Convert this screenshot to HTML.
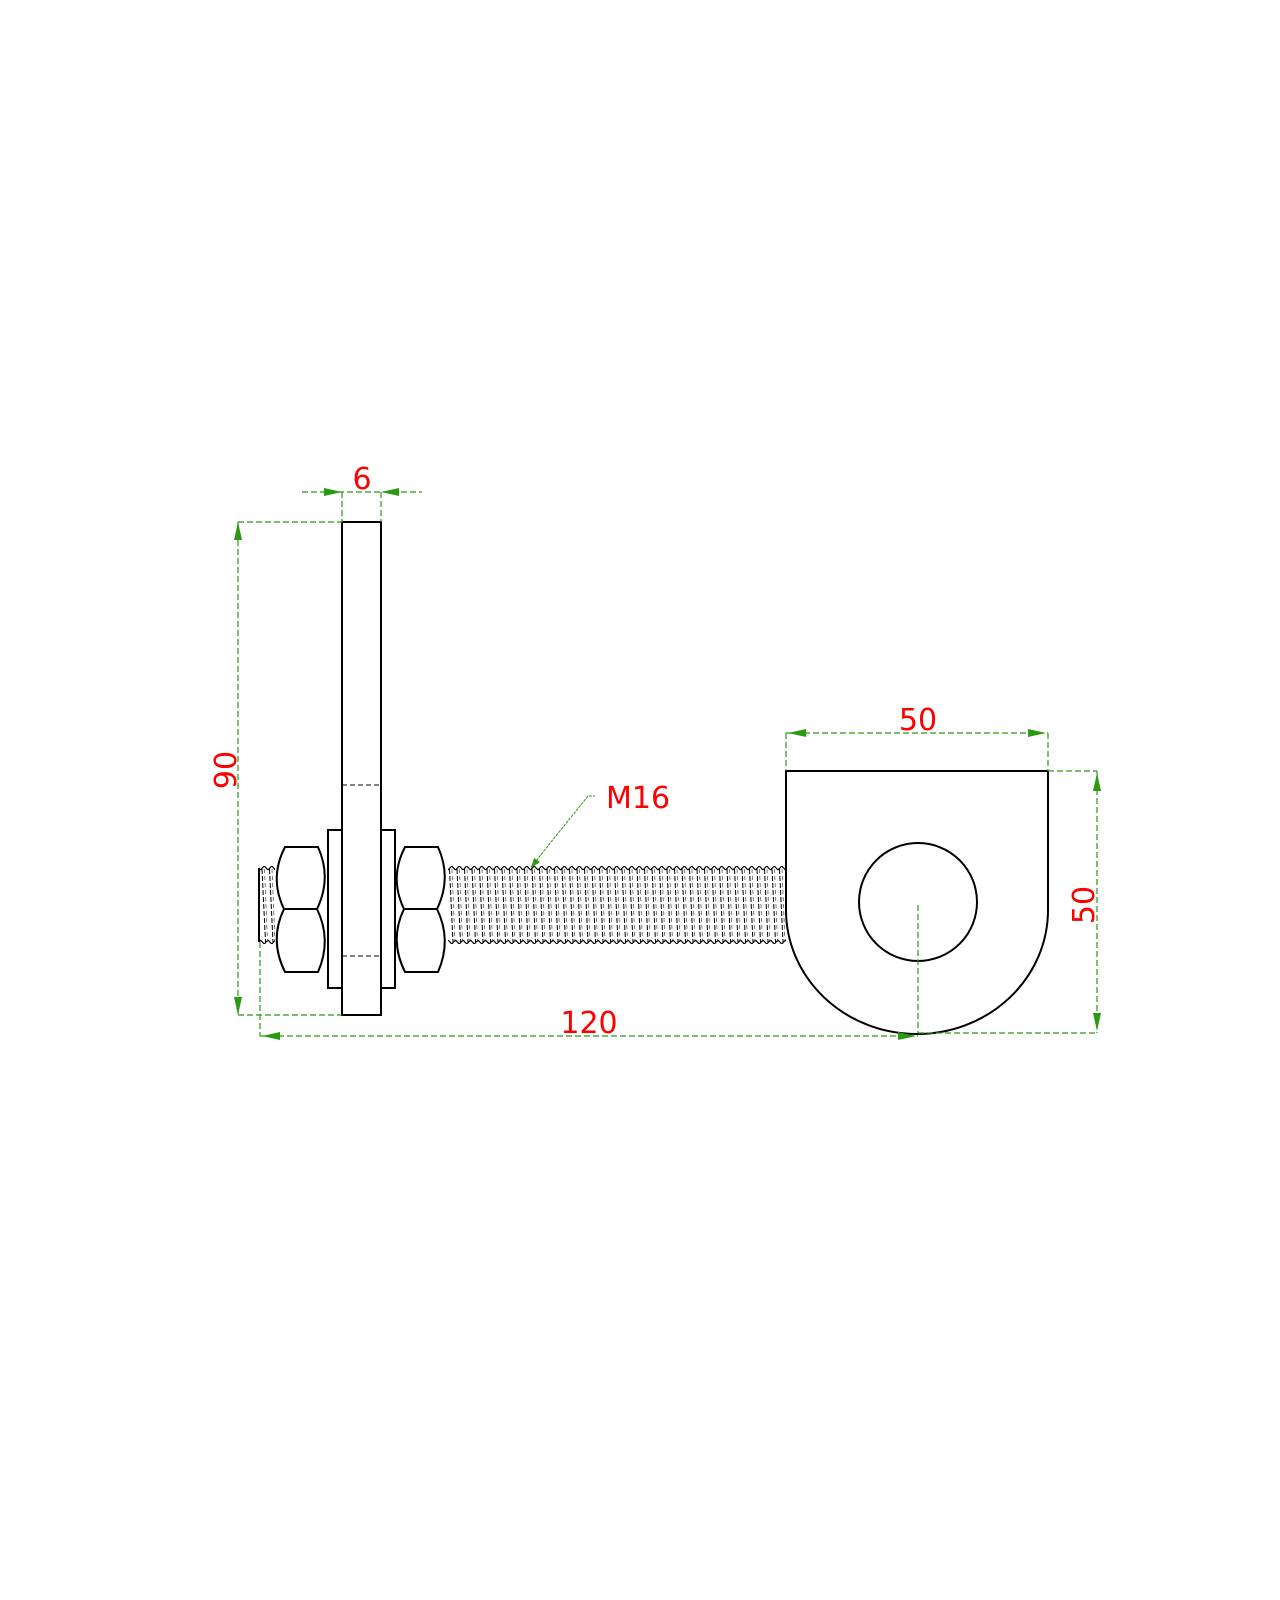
<!DOCTYPE html>
<html><head><meta charset="utf-8"><style>html,body{margin:0;padding:0;background:#fff}svg{display:block}</style></head><body>
<svg width="1280" height="1600" viewBox="0 0 1280 1600" xmlns="http://www.w3.org/2000/svg">
<defs>
<pattern id="thr" x="448" y="866" width="7.5" height="78" patternUnits="userSpaceOnUse">
<path d="M0,4 L3.75,0 L7.5,4" fill="none" stroke="#000" stroke-width="1.2"/>
<path d="M0,74 L3.75,78 L7.5,74" fill="none" stroke="#000" stroke-width="1.2"/>
<line x1="1.5" y1="3" x2="5" y2="76" stroke="#000" stroke-width="1" stroke-dasharray="5,2"/>
<line x1="4" y1="3" x2="7" y2="76" stroke="#444" stroke-width="0.7" stroke-dasharray="4,3"/>
</pattern>
</defs>
<g fill="none" stroke="#000" stroke-width="2">
<rect x="448" y="866" width="338" height="78" fill="url(#thr)" stroke="none"/>
<rect x="259" y="866" width="16" height="78" fill="url(#thr)" stroke="none"/>
<line x1="259" y1="868" x2="259" y2="942"/>
<rect x="342" y="522" width="39" height="493"/>
<line x1="342" y1="785" x2="381" y2="785" stroke-width="1" stroke-dasharray="5,3"/>
<line x1="342" y1="956" x2="381" y2="956" stroke-width="1" stroke-dasharray="5,3"/>
<rect x="328" y="830" width="14" height="158" fill="#fff"/>
<rect x="381" y="830" width="14" height="158" fill="#fff"/>
<path d="M285,847 L318,847 Q332,878 317,909 L284,909 Q269,878 285,847 Z" fill="#fff"/>
<path d="M284,909 L317,909 Q332,940 318,972 L285,972 Q269,940 284,909 Z" fill="#fff"/>
<path d="M405,847 L438,847 Q452,878 437,909 L404,909 Q389,878 405,847 Z" fill="#fff"/>
<path d="M404,909 L437,909 Q452,940 438,972 L405,972 Q389,940 404,909 Z" fill="#fff"/>
<path d="M786,771 L1048,771 L1048,910 A131,124 0 0 1 786,910 Z" fill="#fff"/>
<circle cx="918" cy="902" r="59"/>
</g>
<g stroke="#2a9a10" stroke-width="1.2" fill="none" stroke-dasharray="6,3">
<line x1="918" y1="905" x2="918" y2="1033"/>
<line x1="302" y1="492" x2="422" y2="492"/>
<line x1="342" y1="492" x2="342" y2="522"/>
<line x1="381" y1="492" x2="381" y2="522"/>
<line x1="238" y1="522" x2="342" y2="522"/>
<line x1="238" y1="522" x2="238" y2="1015"/>
<line x1="238" y1="1015" x2="342" y2="1015"/>
<line x1="260" y1="942" x2="260" y2="1036"/>
<line x1="260" y1="1036" x2="918" y2="1036"/>
<line x1="786" y1="733" x2="1048" y2="733"/>
<line x1="786" y1="733" x2="786" y2="771"/>
<line x1="1048" y1="733" x2="1048" y2="771"/>
<line x1="1048" y1="771" x2="1097" y2="771"/>
<line x1="1097" y1="771" x2="1097" y2="1033"/>
<line x1="918" y1="1033" x2="1097" y2="1033"/>
</g>
<g fill="#2a9a10">
<polygon points="342,492 324,488 324,496"/><polygon points="381,492 399,488 399,496"/>
<polygon points="238,522 234,540 242,540"/><polygon points="238,1015 234,997 242,997"/>
<polygon points="262,1036 280,1032 280,1040"/><polygon points="916,1036 898,1032 898,1040"/>
<polygon points="788,733 806,729 806,737"/><polygon points="1046,733 1028,729 1028,737"/>
<polygon points="1097,773 1093,791 1101,791"/><polygon points="1097,1031 1093,1013 1101,1013"/>
<polygon points="531,868 534,858 540,862"/>
</g>
<polyline points="531,867 588,796 595,796" fill="none" stroke="#2a9a10" stroke-width="1" stroke-dasharray="3,1"/>
<g fill="#ff0000" font-family="'DejaVu Sans','Liberation Sans',sans-serif" font-size="30">
<text x="362" y="489" text-anchor="middle">6</text>
<text x="918" y="730" text-anchor="middle">50</text>
<text x="589" y="1033" text-anchor="middle">120</text>
<text x="638" y="808" text-anchor="middle">M16</text>
<text transform="translate(236,770) rotate(-90)" text-anchor="middle">90</text>
<text transform="translate(1094,905) rotate(-90)" text-anchor="middle">50</text>
</g>
</svg>
</body></html>
